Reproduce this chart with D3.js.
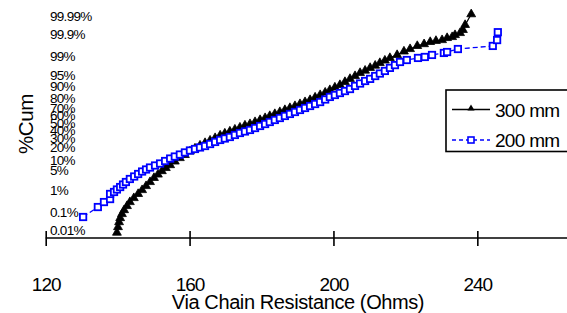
<!DOCTYPE html>
<html>
<head>
<meta charset="utf-8">
<script src="https://cdn.jsdelivr.net/npm/d3@7"></script>
<style>
  body { margin: 0; background: #fff; }
  svg { display: block; font-family: "Liberation Sans", Arial, sans-serif; }
</style>
</head>
<body>
<svg id="chart" width="567" height="313"></svg>
<script>
// cumulative % and resistance (Ohms)
const pct300 = [0.006, 0.013, 0.025, 0.042, 0.069, 0.11, 0.175, 0.27, 0.41, 0.62,
  0.90, 1.3, 1.85, 2.6, 3.4, 4.4, 5.5, 6.7, 8.5, 10.5,
  12.6, 15.3, 17.9, 20.7, 23.3, 26.0, 28.9, 32.0, 34.5, 37.1,
  39.7, 42.4, 45.2, 47.2, 50.0, 52.8, 55.5, 58.3, 61.0, 63.6,
  66.2, 68.7, 71.1, 73.4, 75.6, 77.8, 80.3, 82.6, 84.7, 86.7,
  88.5, 90.1, 91.8, 93.3, 94.5, 95.6, 96.3, 97.0, 97.5, 97.99,
  98.37, 98.70, 99.01, 99.29, 99.44, 99.59, 99.66, 99.73, 99.76, 99.78,
  99.825, 99.843, 99.875, 99.901, 99.931, 99.963, 99.991]
const res300 = [139.8, 140.1, 140.4, 140.7, 141.2, 141.8, 142.6, 143.4, 144.5, 145.7,
  146.8, 147.9, 149.0, 150.1, 151.2, 152.3, 153.4, 154.6, 155.9, 157.3,
  158.7, 160.1, 161.5, 162.9, 164.3, 165.7, 167.1, 168.5, 169.8, 171.2,
  172.6, 174.0, 175.4, 176.8, 178.2, 179.6, 181.0, 182.3, 183.7, 185.1,
  186.5, 187.9, 189.3, 190.7, 192.1, 193.5, 194.9, 196.3, 197.7, 199.0,
  200.4, 201.8, 203.2, 204.6, 206.0, 207.4, 208.8, 210.2, 211.6, 212.9,
  214.3, 215.7, 217.7, 219.6, 221.3, 223.3, 225.2, 226.9, 228.5, 230.2,
  231.6, 233.0, 233.8, 235.2, 236.0, 236.6, 238.3]

const pct200 = [0.048, 0.156, 0.27, 0.37, 0.62, 0.75, 0.95, 1.19, 1.49, 1.85,
  2.38, 2.91, 3.54, 4.26, 4.94, 5.68, 6.53, 7.46, 8.76, 10.2,
  11.5, 12.9, 14.5, 16.1, 17.4, 18.8, 20.2, 22.2, 24.4, 26.6,
  28.3, 30.1, 32.6, 35.1, 37.1, 39.1, 41.7, 44.5, 47.2, 50.0,
  52.8, 55.5, 58.3, 61.0, 63.6, 66.2, 68.7, 71.1, 73.4, 75.6,
  78.3, 80.8, 82.6, 84.3, 85.9, 87.4, 89.5, 90.95, 92.3, 93.3,
  94.5, 95.4, 96.2, 97.0, 97.6, 98.15, 98.44, 98.70, 98.81, 99.01,
  99.18, 99.25, 99.44, 99.59, 99.78, 99.91]
const res200 = [130.4, 134.5, 136.2, 137.9, 137.9, 139.0, 139.8, 140.7, 141.5, 142.3,
  143.4, 144.6, 145.7, 146.8, 147.9, 149.0, 150.4, 151.8, 153.2, 154.6,
  155.9, 157.3, 158.7, 160.1, 161.5, 162.9, 164.3, 165.7, 167.1, 168.5,
  169.8, 171.2, 172.6, 174.0, 175.4, 176.8, 178.2, 179.6, 181.0, 182.3,
  183.7, 185.1, 186.5, 187.9, 189.3, 190.7, 192.1, 193.5, 194.9, 196.3,
  197.7, 199.0, 200.4, 201.8, 203.2, 204.6, 206.0, 207.4, 208.8, 210.2,
  211.6, 212.9, 214.3, 215.7, 217.1, 218.5, 220.4, 223.5, 225.4, 227.4,
  230.7, 231.6, 234.6, 244.3, 245.5, 245.7]

const yTickPct = [0.01, 0.1, 1, 5, 10, 20, 30, 40, 50, 60, 70, 80, 90, 95, 99, 99.9, 99.99]
const yTickText = ["0.01%", "0.1%", "1%", "5%", "10%", "20%", "30%", "40%", "50%", "60%", "70%", "80%", "90%", "95%", "99%", "99.9%", "99.99%"]
const xTicks = [120, 160, 200, 240]
const seriesNames = ["300 mm", "200 mm"]

// inverse normal cdf (Acklam)
function probit(p) {
  const a = [-3.969683028665376e+01, 2.209460984245205e+02, -2.759285104469687e+02, 1.383577518672690e+02, -3.066479806614716e+01, 2.506628277459239e+00]
  const b = [-5.447609879822406e+01, 1.615858368580409e+02, -1.556989798598866e+02, 6.680131188771972e+01, -1.328068155288572e+01]
  const c = [-7.784894002430293e-03, -3.223964580411365e-01, -2.400758277161838e+00, -2.549671348858469e+00, 4.374664141464968e+00, 2.938163982698783e+00]
  const d = [7.784695709041462e-03, 3.224671290700398e-01, 2.445134137142996e+00, 3.754408661907416e+00]
  const pl = 0.02425
  let q, r
  if (p < pl) {
    q = Math.sqrt(-2 * Math.log(p))
    return (((((c[0]*q+c[1])*q+c[2])*q+c[3])*q+c[4])*q+c[5]) / ((((d[0]*q+d[1])*q+d[2])*q+d[3])*q+1)
  }
  if (p <= 1 - pl) {
    q = p - 0.5; r = q * q
    return (((((a[0]*r+a[1])*r+a[2])*r+a[3])*r+a[4])*r+a[5])*q / (((((b[0]*r+b[1])*r+b[2])*r+b[3])*r+b[4])*r+1)
  }
  q = Math.sqrt(-2 * Math.log(1 - p))
  return -(((((c[0]*q+c[1])*q+c[2])*q+c[3])*q+c[4])*q+c[5]) / ((((d[0]*q+d[1])*q+d[2])*q+d[3])*q+1)
}

const svg = d3.select("#chart")
svg.append("rect").attr("width", 567).attr("height", 313).attr("fill", "#fff")

const x = d3.scaleLinear().domain([120, 280]).range([45.7, 621.2])
const zMax = probit(0.9999)
const y = d3.scaleLinear().domain([-zMax, zMax]).range([229, 15])
const yp = p => y(probit(p / 100))

// x axis
const xAxis = d3.axisBottom(x).tickValues(xTicks).tickSize(0).tickFormat(d3.format("d"))
const gx = svg.append("g").attr("transform", "translate(0,238)").call(xAxis)
gx.select(".domain").remove()
gx.selectAll(".tick line").remove()
gx.selectAll(".tick").append("line")
  .attr("y1", -7).attr("y2", 8).attr("stroke", "#000").attr("stroke-width", 1.6)
gx.selectAll(".tick text")
  .attr("y", 53).attr("dy", 0)
  .attr("font-size", 19).attr("letter-spacing", -1)
  .attr("font-family", "Liberation Sans, Arial, sans-serif")
  .attr("fill", "#000")
svg.append("line").attr("x1", 45.7).attr("x2", 567).attr("y1", 238).attr("y2", 238)
  .attr("stroke", "#000").attr("stroke-width", 1.6)

svg.append("text")
  .attr("x", 298).attr("y", 309)
  .attr("text-anchor", "middle")
  .attr("font-size", 20).attr("letter-spacing", -0.4)
  .text("Via Chain Resistance (Ohms)")

// y labels (probability scale)
svg.append("g").selectAll("text")
  .data(yTickPct)
  .join("text")
  .attr("x", 50)
  .attr("y", d => yp(d) + 0.8)
  .attr("dy", "0.36em")
  .attr("font-size", 13.5).attr("letter-spacing", -0.7)
  .text((d, i) => yTickText[i])

svg.append("text")
  .attr("transform", "translate(33,124) rotate(-90)")
  .attr("text-anchor", "middle")
  .attr("font-size", 20.5).attr("letter-spacing", -0.4)
  .text("%Cum")

const data300 = res300.map((r, i) => ({ r, p: pct300[i] }))
const data200 = res200.map((r, i) => ({ r, p: pct200[i] }))
const line = d3.line().x(d => x(d.r)).y(d => yp(d.p))

// 300 mm
svg.append("path").datum(data300).attr("d", line)
  .attr("fill", "none").attr("stroke", "#000").attr("stroke-width", 1.3)
const tri = d3.symbol().type(d3.symbolTriangle).size(34)
svg.append("g").selectAll("path")
  .data(data300)
  .join("path")
  .attr("d", tri)
  .attr("transform", d => `translate(${x(d.r)},${yp(d.p)})`)
  .attr("fill", "#000").attr("stroke", "#000").attr("stroke-width", 0.8)

// 200 mm
svg.append("path").datum(data200).attr("d", line)
  .attr("fill", "none").attr("stroke", "#0000ff").attr("stroke-width", 1.3)
  .attr("stroke-dasharray", "5,3")
svg.append("g").selectAll("rect")
  .data(data200)
  .join("rect")
  .attr("x", d => x(d.r) - 3.2).attr("y", d => yp(d.p) - 3.2)
  .attr("width", 6.4).attr("height", 6.4)
  .attr("fill", "#fff").attr("stroke", "#0000ff").attr("stroke-width", 1.8)

// legend
const lg = svg.append("g")
lg.append("rect").attr("x", 446).attr("y", 90).attr("width", 130).attr("height", 61.5)
  .attr("fill", "#fff").attr("stroke", "#000").attr("stroke-width", 1.6)
lg.append("line").attr("x1", 452).attr("x2", 490).attr("y1", 109.5).attr("y2", 109.5)
  .attr("stroke", "#000").attr("stroke-width", 1.3)
lg.append("path").attr("d", d3.symbol().type(d3.symbolTriangle).size(22))
  .attr("transform", "translate(471,108.5)").attr("fill", "#000")
lg.append("line").attr("x1", 452).attr("x2", 490).attr("y1", 140).attr("y2", 140)
  .attr("stroke", "#0000ff").attr("stroke-width", 1.3).attr("stroke-dasharray", "4,3")
lg.append("rect").attr("x", 468).attr("y", 137).attr("width", 6).attr("height", 6)
  .attr("fill", "#fff").attr("stroke", "#0000ff").attr("stroke-width", 1.6)
lg.selectAll("text.leg")
  .data(seriesNames)
  .join("text")
  .attr("class", "leg")
  .attr("x", 495)
  .attr("y", (d, i) => 116.5 + i * 30)
  .attr("font-size", 19).attr("letter-spacing", -0.7)
  .text(d => d)
</script>
</body>
</html>
